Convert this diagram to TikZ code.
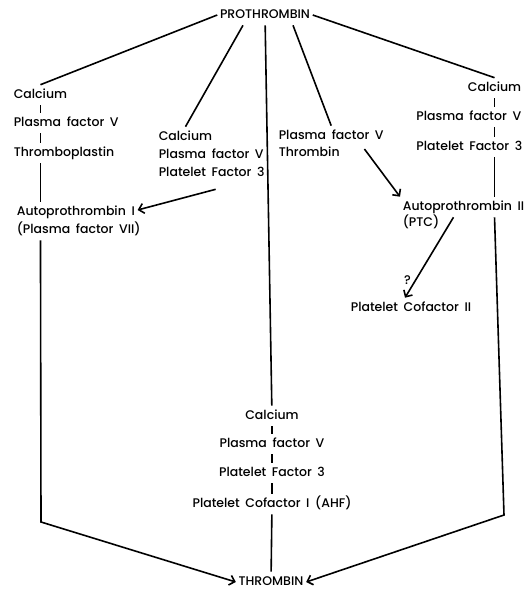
\documentclass[tikz,border=0pt]{standalone}
\usepackage{fontspec}
\setmainfont{Poppins}[UprightFont=* Medium]
\usetikzlibrary{arrows.meta}
\newcommand{\labelfont}{\fontsize{12.5}{14}\selectfont\spaceskip=0.45em plus 0.1em\relax}

\begin{document}
\begin{tikzpicture}[x=1pt, y=-1pt, line width=1.6pt, >={Straight Barb[length=5pt, width=10pt]},
    every node/.style = {font=\labelfont, inner xsep=2pt, inner ysep=4pt, text height=8.5pt, text depth=2.5pt}]
    \useasboundingbox (0,0) rectangle (530,592);
    % top and bottom
    \node (pro) at (265,15) {PROTHROMBIN};
    \node (thr) at (271,582) {THROMBIN};
    % left column
    \node[anchor=west] (l1) at (11,95) {Calcium};
    \node[anchor=west] (l2) at (11,123) {Plasma factor V};
    \node[anchor=west] (l3) at (11,153) {Thromboplastin};
    \node[anchor=west] (ap1a) at (14,212) {Autoprothrombin I};
    \node[anchor=west] (ap1b) at (14,230) {(Plasma factor VII)};
    \coordinate (lc) at (41,522);
    % middle left
    \node[anchor=west] (ml1) at (156,137) {Calcium};
    \node[anchor=west] (ml2) at (156,155) {Plasma factor V};
    \node[anchor=west] (ml3) at (156,173) {Platelet Factor 3};
    % middle right
    \node[anchor=west] (mr1) at (276,136) {Plasma factor V};
    \node[anchor=west] (mr2) at (276,153) {Thrombin};
    \node[anchor=west] (ap2) at (400,207) {Autoprothrombin II};
    \node[anchor=west] (ptc) at (400,223) {(PTC)};
    \node (pc2) at (411,308) {Platelet Cofactor II};
    % right column
    \node[anchor=east] (r1) at (524,88) {Calcium};
    \node[anchor=east] (r2) at (524,117) {Plasma factor V};
    \node[anchor=east] (r3) at (525,147) {Platelet Factor 3};
    \coordinate (rc) at (504,515);
    % centre column
    \node (b1) at (272,416) {Calcium};
    \node (b2) at (272,444) {Plasma factor V};
    \node (b3) at (272,473) {Platelet Factor 3};
    \node (b4) at (272,504) {Platelet Cofactor I (AHF)};

    % from prothrombin
    \draw (pro.west) -- (l1.north);
    \draw ([xshift=-22pt]pro.south) -- (ml1.north);
    \draw (pro) -- (b1);
    \draw ([xshift=28pt]pro.south) -- (mr1.north);
    \draw (pro.east) -- (r1.north);

    % left chain
    \foreach \a/\b in {l1/l2, l2/l3, l3/ap1a}
        \draw (l1.south |- \a.south) -- (l1.south |- \b.north);
    \draw[->] (l1.south |- ap1b.south) -- (lc) -- (thr.west);
    \draw[->] ([xshift=4pt, yshift=-6pt]ml3.south) -- ([yshift=2pt]ap1a.east);

    % right chain
    \foreach \a/\b in {r1/r2, r2/r3, r3/ap2}
        \draw (r1.south |- \a.south) -- (r1.south |- \b.north);
    \draw[->] (r1.south |- ap2.south) -- (rc) -- (thr.east);
    \draw[->] ([xshift=22pt, yshift=4pt]mr2.east) -- (ap2.north west);
    \draw[->] ([xshift=-10pt]ap2.south) -- ([xshift=-6pt]pc2.north)
        node[pos=0.8, left=1pt] {?};

    % centre chain
    \foreach \a/\b in {b1/b2, b2/b3, b3/b4}
        \draw (\a.south) -- (\b.north);
    \draw (b4) -- (thr);
\end{tikzpicture}
\end{document}
